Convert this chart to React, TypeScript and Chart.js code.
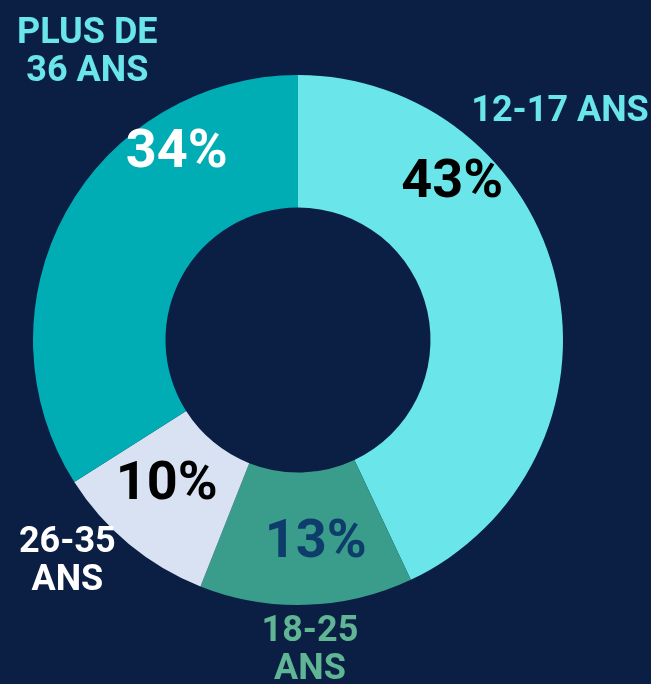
import React, { useEffect, useRef } from "react";
import { Chart, registerables } from "chart.js";

Chart.register(...registerables);

const categories = ["12-17 ANS", "18-25 ANS", "26-35 ANS", "PLUS DE 36 ANS"];
const categoryLines = [["12-17 ANS"], ["18-25", "ANS"], ["26-35", "ANS"], ["PLUS DE", "36 ANS"]];
const values = [43, 13, 10, 34];

const BG = "#0b1f45";
const sliceColors = ["#6ae5e9", "#3a9c8a", "#d8e2f2", "#00adb5"];
const pctColors = ["#000000", "#0f3d6b", "#000000", "#ffffff"];
const catColors = ["#6ae5e9", "#5fb594", "#ffffff", "#6ae5e9"];
// label placement: angle (deg clockwise from top) and radius as fraction of outer radius
const pctPlace = [[44.5, 0.83], [175, 0.77], [222, 0.74], [327, 0.84]];
const catPlace = [[49.0, 1.31], [177.8, 1.174], [226.1, 1.208], [323.7, 1.343]];

const FONT = "Roboto, 'Noto Sans', sans-serif";

const labelPlugin = {
  id: "labels",
  afterDraw(chart: any) {
    const ctx = chart.ctx;
    const meta = chart.getDatasetMeta(0);
    const arc = meta.data[0];
    const cx = arc.x;
    const cy = arc.y;
    const R = arc.outerRadius;
    const total = values.reduce((a, b) => a + b, 0);
    ctx.save();
    ctx.textAlign = "center";
    ctx.textBaseline = "middle";
    values.forEach((v, i) => {
      const [a, f] = pctPlace[i];
      const rad = (a * Math.PI) / 180;
      const x = cx + Math.sin(rad) * R * f;
      const y = cy - Math.cos(rad) * R * f;
      ctx.font = `bold 54px ${FONT}`;
      (ctx as any).letterSpacing = "0px";
      ctx.fillStyle = pctColors[i];
      ctx.fillText(Math.round((v / total) * 100) + "%", x, y);
    });
    categoryLines.forEach((lines, i) => {
      const [a, f] = catPlace[i];
      const rad = (a * Math.PI) / 180;
      const x = cx + Math.sin(rad) * R * f;
      const y = cy - Math.cos(rad) * R * f;
      ctx.font = `bold 36px ${FONT}`;
      (ctx as any).letterSpacing = "0px";
      ctx.fillStyle = catColors[i];
      const lh = 38;
      const y0 = y - ((lines.length - 1) * lh) / 2;
      lines.forEach((ln, j) => ctx.fillText(ln, x, y0 + j * lh));
    });
    ctx.restore();
  },
};

export default function App() {
  const ref = useRef<HTMLCanvasElement>(null);
  useEffect(() => {
    document.body.style.margin = "0";
    document.body.style.background = BG;
    const chart = new Chart(ref.current!, {
      type: "doughnut",
      data: {
        labels: categories,
        datasets: [
          {
            data: values,
            backgroundColor: sliceColors,
            borderWidth: 0,
          },
        ],
      },
      options: {
        animation: false,
        responsive: false,
        cutout: "50%",
        layout: { padding: { left: 33, right: 88, top: 75, bottom: 79 } },
        plugins: { legend: { display: false }, tooltip: { enabled: false } },
      },
      plugins: [labelPlugin],
    });
    return () => chart.destroy();
  }, []);
  return (
    <div style={{ width: 651, height: 684, background: BG }}>
      <canvas ref={ref} width={651} height={684} style={{ display: "block" }} />
    </div>
  );
}
